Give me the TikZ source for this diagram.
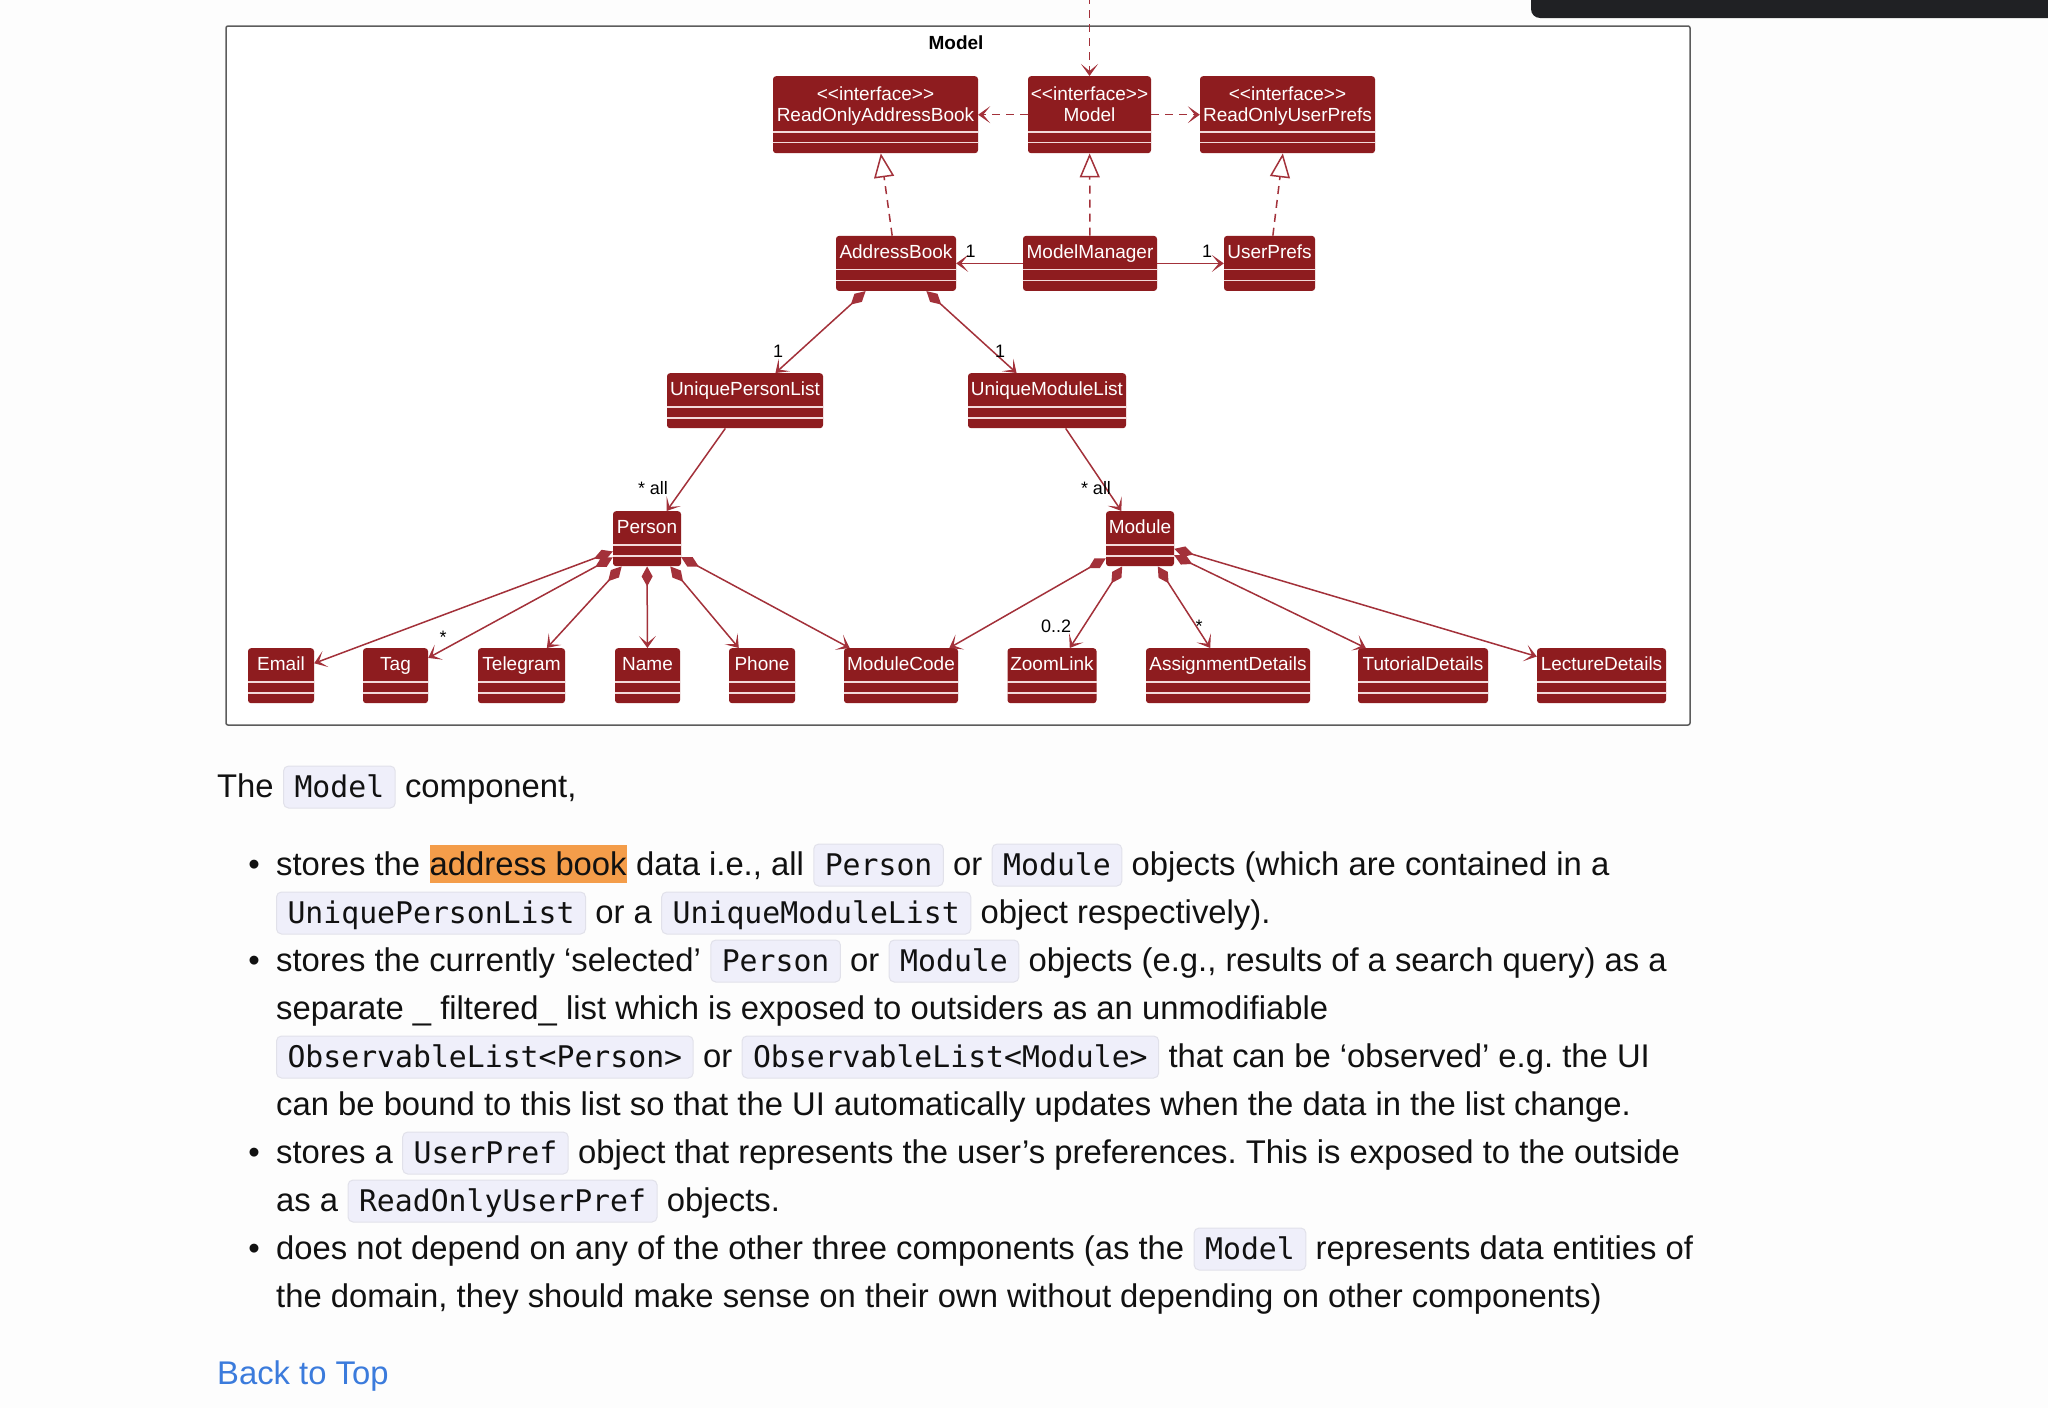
\documentclass[tikz,border=0pt]{standalone}
\usepackage{fontspec}
\setmainfont{Liberation Sans}
\newfontfamily\codefam{DejaVu Sans Mono}
\usetikzlibrary{arrows.meta}
\definecolor{boxred}{HTML}{8E1C1F}
\definecolor{linered}{HTML}{A3313A}
\definecolor{sepline}{HTML}{F3DADA}
\definecolor{codebg}{HTML}{EFEFFA}
\definecolor{codebd}{HTML}{E1E1EA}
\definecolor{hlorange}{HTML}{F49D4A}
\definecolor{pagebg}{HTML}{FDFDFD}
\definecolor{framecol}{HTML}{5C5C5C}
\definecolor{barcol}{HTML}{202124}
\definecolor{linkblue}{HTML}{3B7BDC}
\definecolor{bodytext}{HTML}{111111}
\frenchspacing
\newcommand\umlsize{\fontsize{19}{21}\selectfont}
\newcommand\labsize{\fontsize{18}{20}\selectfont}
\newcommand\bodysize{\frenchspacing\fontsize{32.8}{48}\selectfont}
\newcommand\codesize{\codefam\fontsize{29.8}{36}\selectfont}
\newcommand\tsp{\kern\fontdimen2\font}
\newcommand\ifacetext[1]{\makebox[0pt]{\raisebox{21pt}{<\kern0pt<interface>\kern0pt>}}\makebox[0pt]{#1}}
\tikzset{
  umlhead/.tip={Stealth[length=12pt,width=17pt,inset=7pt]},
  umldiam/.tip={Diamond[length=20pt,width=11pt]},
  umltri/.tip={Triangle[length=24pt,width=20pt,fill=white,line width=1.5pt]},
}
\begin{document}
\begin{tikzpicture}[x=1pt,y=-1pt,
  cls/.style={fill=boxred, text=white, font=\umlsize, rounded corners=3pt,
    inner xsep=0pt, inner ysep=0pt, anchor=north, minimum height=55pt,
    text height=22.7pt, text depth=32.3pt},
  iface/.style={cls, minimum height=77pt, text height=44.8pt, text depth=32.2pt},
  sepl/.style={draw=sepline, line width=1.4pt},
  assoc/.style={draw=linered, line width=1.5pt, -umlhead},
  dep/.style={assoc, dash pattern=on 8pt off 6pt},
  real/.style={draw=linered, line width=1.5pt, dash pattern=on 8pt off 6pt, -umltri},
  comp/.style={draw=linered, line width=1.5pt, umldiam-umlhead, fill=linered},
  lab/.style={font=\labsize, text=black, inner sep=0pt},
  txt/.style={font=\bodysize, text=bodytext, inner sep=0pt, anchor=base west},
  code/.style={font=\codesize, text=bodytext, fill=codebg, draw=codebd, line width=1pt,
    rounded corners=5pt, inner xsep=11pt, inner ysep=0pt, text height=31pt,
    text depth=11pt, anchor=base west},
  hl/.style={font=\bodysize, text=bodytext, fill=hlorange, inner xsep=0pt, inner ysep=0pt,
    text height=30pt, text depth=8pt, anchor=base west},
  bul/.style={font=\bodysize, text=bodytext, inner sep=0pt, anchor=base},
]
\useasboundingbox (0,0) rectangle (2048,1408);
\fill[pagebg] (0,0) rectangle (2048,1408);
% top bar
\fill[barcol] (2060,-20) -- (1531,-20) [rounded corners=9pt] -- (1531,18) -- (2060,18) [sharp corners] -- cycle;
% package frame
\draw[framecol, fill=white, line width=1.5pt, rounded corners=2pt] (226,26) rectangle (1690,725);
\node[font=\bfseries\fontsize{19}{21}\selectfont, inner sep=0pt] (pkg) at (956,43) {Model};

% classes
\node[iface, minimum width=205pt] (ROAB) at (875.5,76) {\ifacetext{ReadOnlyAddressBook}};
\node[iface, minimum width=123pt] (MI) at (1089.5,76) {\ifacetext{Model}};
\node[iface, minimum width=175pt] (ROUP) at (1287.5,76) {\ifacetext{ReadOnlyUserPrefs}};

\node[cls, minimum width=120pt] (AB) at (896,235.7) {AddressBook};
\node[cls, minimum width=134pt] (MM) at (1090,235.7) {ModelManager};
\node[cls, minimum width=91pt] (UP) at (1269.5,235.7) {UserPrefs};

\node[cls, minimum width=156pt] (UPL) at (745,373) {UniquePersonList};
\node[cls, minimum width=158pt] (UML) at (1047,373) {UniqueModuleList};

\node[cls, minimum width=68pt] (Per) at (647,511) {Person};
\node[cls, minimum width=68pt] (Mod) at (1140,511) {Module};

\node[cls, minimum width=66pt] (Email) at (281,648) {Email};
\node[cls, minimum width=65pt] (Tag) at (395.5,648) {Tag};
\node[cls, minimum width=87pt] (Tele) at (521.5,648) {Telegram};
\node[cls, minimum width=65pt] (Name) at (647.5,648) {Name};
\node[cls, minimum width=66pt] (Phone) at (762,648) {Phone};
\node[cls, minimum width=114pt] (MC) at (901,648) {ModuleCode};
\node[cls, minimum width=89pt] (ZL) at (1052,648) {ZoomLink};
\node[cls, minimum width=164pt] (AD) at (1228,648) {AssignmentDetails};
\node[cls, minimum width=130pt] (TD) at (1423,648) {TutorialDetails};
\node[cls, minimum width=129pt] (LD) at (1601.5,648) {LectureDetails};

\foreach \n in {ROAB,MI,ROUP} {
  \draw[sepl] ([yshift=-56pt]\n.north west) -- ([yshift=-56pt]\n.north east);
  \draw[sepl] ([yshift=-66.5pt]\n.north west) -- ([yshift=-66.5pt]\n.north east);
}
\foreach \n in {AB,MM,UP,UPL,UML,Per,Mod,Email,Tag,Tele,Name,Phone,MC,ZL,AD,TD,LD} {
  \draw[sepl] ([yshift=-34pt]\n.north west) -- ([yshift=-34pt]\n.north east);
  \draw[sepl] ([yshift=-45pt]\n.north west) -- ([yshift=-45pt]\n.north east);
}

% connectors
\coordinate (ext) at (1089.5,-4);
\draw[dep] (ext) -- (MI);
\draw[dep] (MI) -- (ROAB);
\draw[dep] (MI) -- (ROUP);
\draw[real] (AB) -- (ROAB);
\draw[real] (MM) -- (MI);
\draw[real] (UP) -- (ROUP);
\draw[assoc] (MM) -- (AB);
\draw[assoc] (MM) -- (UP);
\draw[comp] (AB) -- (UPL);
\draw[comp] (AB) -- (UML);
\draw[assoc] (UPL) -- (Per);
\draw[assoc] (UML) -- (Mod);
\foreach \t in {Email,Tag,Tele,Name,Phone,MC} { \draw[comp] (Per) -- (\t); }
\foreach \t in {MC,ZL,AD,TD,LD} { \draw[comp] (Mod) -- (\t); }

% multiplicities
\node[lab] (m1) at (970.7,251) {1};
\node[lab] (m2) at (1207,251) {1};
\node[lab] (m3) at (778,351) {1};
\node[lab] (m4) at (1000,351) {1};
\node[lab] (m5) at (653,488) {* all};
\node[lab] (m6) at (1096,488) {* all};
\node[lab] (m7) at (443,637) {*};
\node[lab] (m8) at (1056,626) {0..2};
\node[lab] (m9) at (1199,626) {*};

% text
\node[txt] (p0a) at (217,797) {The\tsp};
\node[code] (p0b) at (p0a.base east) {Model};
\node[txt] (p0c) at (p0b.base east) {\tsp component,};

\node[bul] (b1) at (254,875) {•};
\node[txt] (p1a) at (276,875) {stores the\tsp};
\node[hl] (p1b) at (p1a.base east) {address book};
\node[txt] (p1c) at (p1b.base east) {\tsp data i.e., all\tsp};
\node[code] (p1d) at (p1c.base east) {Person};
\node[txt] (p1e) at (p1d.base east) {\tsp or\tsp};
\node[code] (p1f) at (p1e.base east) {Module};
\node[txt] (p1g) at (p1f.base east) {\tsp objects (which are contained in a};

\node[code] (p2a) at (276,923) {UniquePersonList};
\node[txt] (p2b) at (p2a.base east) {\tsp or a\tsp};
\node[code] (p2c) at (p2b.base east) {UniqueModuleList};
\node[txt] (p2d) at (p2c.base east) {\tsp object respectively).};

\node[bul] (b3) at (254,971) {•};
\node[txt] (p3a) at (276,971) {stores the currently ‘selected’\tsp};
\node[code] (p3b) at (p3a.base east) {Person};
\node[txt] (p3c) at (p3b.base east) {\tsp or\tsp};
\node[code] (p3d) at (p3c.base east) {Module};
\node[txt] (p3e) at (p3d.base east) {\tsp objects (e.g., results of a search query) as a};

\node[txt] (p4a) at (276,1019) {separate \_ filtered\_ list which is exposed to outsiders as an unmodifiable};

\node[code] (p5a) at (276,1067) {ObservableList<Person>};
\node[txt] (p5b) at (p5a.base east) {\tsp or\tsp};
\node[code] (p5c) at (p5b.base east) {ObservableList<Module>};
\node[txt] (p5d) at (p5c.base east) {\tsp that can be ‘observed’ e.g. the UI};

\node[txt] (p6a) at (276,1115) {can be bound to this list so that the UI automatically updates when the data in the list change.};

\node[bul] (b7) at (254,1163) {•};
\node[txt] (p7a) at (276,1163) {stores a\tsp};
\node[code] (p7b) at (p7a.base east) {UserPref};
\node[txt] (p7c) at (p7b.base east) {\tsp object that represents the user’s preferences. This is exposed to the outside};

\node[txt] (p8a) at (276,1211) {as a\tsp};
\node[code] (p8b) at (p8a.base east) {ReadOnlyUserPref};
\node[txt] (p8c) at (p8b.base east) {\tsp objects.};

\node[bul] (b9) at (254,1259) {•};
\node[txt] (p9a) at (276,1259) {does not depend on any of the other three components (as the\tsp};
\node[code] (p9b) at (p9a.base east) {Model};
\node[txt] (p9c) at (p9b.base east) {\tsp represents data entities of};

\node[txt] (p10a) at (276,1307) {the domain, they should make sense on their own without depending on other components)};

\node[txt, text=linkblue] (back) at (217,1384) {Back to Top};
\end{tikzpicture}
\end{document}
